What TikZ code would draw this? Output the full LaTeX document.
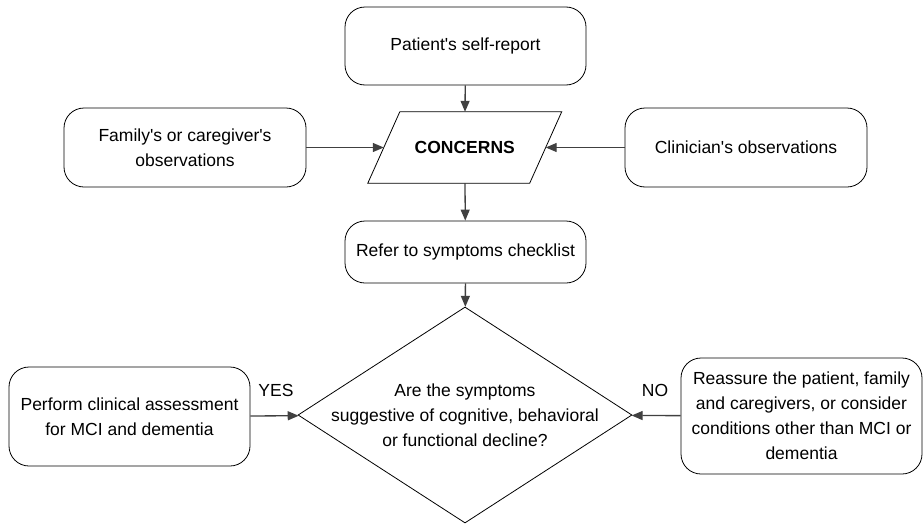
\documentclass[tikz,border=0pt]{standalone}
\usepackage{fontspec}
\setmainfont{Liberation Sans}
\usetikzlibrary{shapes.geometric,arrows.meta}
\newcommand{\ap}{\textquotesingle}
\begin{document}
\begin{tikzpicture}[x=1pt,y=-1pt,
  font=\fontsize{17.5}{25}\selectfont,
  box/.style={draw=black,line width=0.8pt,rounded corners=20pt,align=center,inner sep=0pt},
  conn/.style={draw=black!75,line width=1.3pt,-{Triangle[length=11pt,width=9pt]}},
  lbl/.style={inner sep=0pt}]
\useasboundingbox (0,0) rectangle (924,525);
\node[box,minimum width=241pt,minimum height=78pt] (pat) at (465.5,46) {Patient\ap s self-report};
\node[box,minimum width=242pt,minimum height=79pt] (fam) at (185,147.5) {Family\ap s or caregiver\ap s\\observations};
\node[box,minimum width=242pt,minimum height=79pt] (cli) at (746,147.5) {Clinician\ap s observations};
\node[rectangle,minimum width=161.5pt,minimum height=71pt,inner sep=0pt,font=\fontsize{17.5}{25}\selectfont\bfseries]
  (con) at (464.75,147.5) {CONCERNS};
\draw[line width=0.8pt,line join=miter]
  ([xshift=16pt]con.north west) -- ([xshift=16pt]con.north east)
  -- ([xshift=-16pt]con.south east) -- ([xshift=-16pt]con.south west) -- cycle;
\node[box,minimum width=241pt,minimum height=62pt] (ref) at (465.5,252) {Refer to symptoms checklist};
\node[draw=black,line width=0.8pt,diamond,aspect=1.546,minimum width=334pt,minimum height=216pt,inner sep=0pt]
  (dec) at (465,415) {};
\node[align=center,inner sep=0pt] (dectext) at (dec.center) {Are the symptoms\\suggestive of cognitive, behavioral\\or functional decline?};
\node[box,minimum width=241pt,minimum height=99pt] (per) at (129.5,416.5) {Perform clinical assessment\\for MCI and dementia};
\node[box,minimum width=241pt,minimum height=116pt] (rea) at (801.5,416) {Reassure the patient, family\\and caregivers, or consider\\conditions other than MCI or\\dementia};
\draw[conn] (pat) -- (con);
\draw[conn] (fam) -- (con);
\draw[conn] (cli) -- (con);
\draw[conn] (con) -- (ref);
\draw[conn] (ref) -- (dec);
\draw[conn] (per) -- (dec);
\draw[conn] (rea) -- (dec);
\node[lbl] (yes) at (276,390) {YES};
\node[lbl] (no) at (655,390) {NO};
\end{tikzpicture}
\end{document}
